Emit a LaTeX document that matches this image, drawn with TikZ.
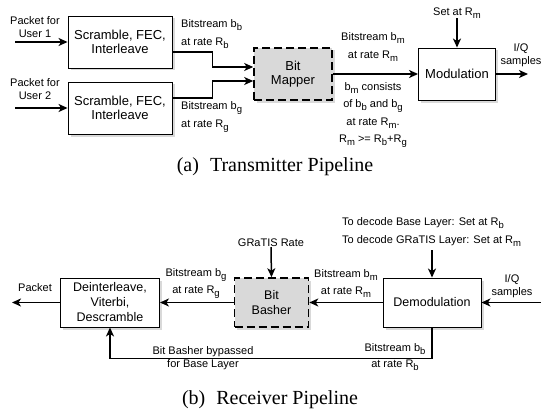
\documentclass[tikz,border=0pt]{standalone}
\usepackage{fontspec}
\setmainfont{Liberation Sans}
\newfontfamily\capfont{Liberation Serif}
\usetikzlibrary{shadows,arrows.meta}
\newcommand{\lsub}[1]{\raisebox{-0.5ex}{\fontsize{9.5}{9.5}\selectfont #1}}

\begin{document}
\begin{tikzpicture}[x=1pt,y=-1pt,
  blk/.style={draw, fill=white, line width=.9pt, align=center, inner sep=0pt,
    font=\fontsize{13}{14.5}\selectfont,
    drop shadow={shadow xshift=2.5pt, shadow yshift=-2.5pt, opacity=.3}},
  dblk/.style={blk, fill=black!15, line width=1.6pt, dash pattern=on 8pt off 4pt},
  lbl/.style={align=center, inner sep=0pt, font=\fontsize{11}{17.5}\selectfont},
  sml/.style={lbl, font=\fontsize{11}{13.5}\selectfont},
  arr/.style={-{Stealth[length=9pt,width=8pt,inset=2.5pt]}, line width=1.5pt}]
\useasboundingbox (0,0) rectangle (541,420);

% (a) transmitter
\node[blk, minimum width=104, minimum height=52] (scr1) at (120,42) {Scramble, FEC,\\Interleave};
\node[blk, minimum width=104, minimum height=52] (scr2) at (120,108) {Scramble, FEC,\\Interleave};
\node[dblk, minimum width=78, minimum height=52] (mapper) at (293,74) {Bit\\Mapper};
\node[blk, minimum width=77, minimum height=52] (modul) at (457,74) {Modulation};

\node[sml] (pk1) at (35,27) {Packet for\\User 1};
\node[sml] (pk2) at (35,89) {Packet for\\User 2};
\node[lbl, align=left, anchor=west] (bbl) at (181,34) {Bitstream b\lsub{b}\\at rate R\lsub{b}};
\node[lbl, align=left, anchor=west] (bgl) at (181,117) {Bitstream b\lsub{g}\\at rate R\lsub{g}};
\node[lbl] (bml) at (373,47) {Bitstream b\lsub{m}\\at rate R\lsub{m}};
\node[lbl] (bmnote) at (373,115) {b\lsub{m} consists\\of b\lsub{b} and b\lsub{g}\\at rate R\lsub{m}.\\R\lsub{m} >= R\lsub{b}+R\lsub{g}};
\node[lbl] (setm) at (457,13) {Set at R\lsub{m}};
\node[sml] (iqo) at (521,55) {I/Q\\samples};

\coordinate (in1) at (15,42);
\coordinate (in2) at (15,108);
\coordinate (out1) at (528,74);

\draw[arr] (in1) -- (scr1);
\draw[arr] (in2) -- (scr2);
\draw[arr] ([yshift=-10pt]scr1.east) -- ++(40,0) |- ([yshift=7pt]mapper.west);
\draw[arr] ([yshift=10pt]scr2.east) -- ++(40,0) |- ([yshift=-7pt]mapper.west);
\draw[arr] (mapper) -- (modul);
\draw[arr] (modul) -- (out1);
\draw[arr] (setm.south) -- ++(0,3) -- (modul.north);

\node[font=\capfont\fontsize{20}{22}\selectfont] (capa) at (275,167) {(a)\hspace{0.55em}Transmitter Pipeline};

% (b) receiver
\node[blk, font=\fontsize{12.5}{15}\selectfont, minimum width=99, minimum height=49] (deint) at (110,302.5) {Deinterleave,\\Viterbi,\\Descramble};
\node[dblk, font=\fontsize{12.5}{15}\selectfont, minimum width=74, minimum height=49] (basher) at (271.5,302.5) {Bit\\Basher};
\node[blk, font=\fontsize{12.5}{15}\selectfont, minimum width=98, minimum height=49] (demod) at (432,302.5) {Demodulation};

\node[sml] (pk) at (35,288) {Packet};
\node[lbl] (rate) at (271,243) {GRaTIS Rate};
\node[lbl] (bgr) at (196,283.5) {Bitstream b\lsub{g}\\at rate R\lsub{g}};
\node[lbl] (bmr) at (346,283.5) {Bitstream b\lsub{m}\\at rate R\lsub{m}};
\node[lbl, align=left, anchor=west] (dec) at (342,232) {To decode Base Layer: Set at R\lsub{b}\\To decode GRaTIS Layer: Set at R\lsub{m}};
\node[sml] (iqi) at (512,286) {I/Q\\samples};
\node[lbl, anchor=south] (byp1) at (203,356.5) {Bit Basher bypassed};
\node[lbl, anchor=north] (byp2) at (203,359.5) {for Base Layer};
\node[lbl, anchor=south] (bbr1) at (395,355) {Bitstream b\lsub{b}};
\node[lbl, anchor=north] (bbr2) at (395,360) {at rate R\lsub{b}};

\coordinate (pkout) at (12,302.5);
\coordinate (iqin) at (541,302.5);

\draw[arr] (deint) -- (pkout);
\draw[arr] (basher) -- (deint);
\draw[arr] (demod) -- (basher);
\draw[arr] (iqin) -- (demod);
\draw[arr] (rate.south) -- ++(0,2) -- (basher.north);
\draw[arr] (dec.south -| demod.north) ++(0,4) -- (demod.north);
\draw[arr] (demod.south) -- ++(0,31) -| (deint.south);

\node[font=\capfont\fontsize{20}{22}\selectfont] (capb) at (270,400) {(b)\hspace{0.55em}Receiver Pipeline};
\end{tikzpicture}
\end{document}
